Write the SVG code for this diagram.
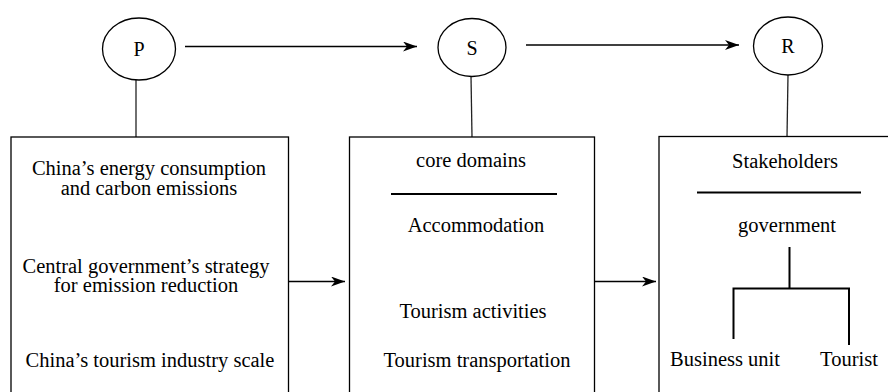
<svg xmlns="http://www.w3.org/2000/svg" width="888" height="392" viewBox="0 0 888 392">
<defs>
<marker id="ah" viewBox="0 0 14 10" refX="14" refY="5" markerWidth="14" markerHeight="10" markerUnits="userSpaceOnUse" orient="auto">
<path d="M0,0 L14,5 L0,10 L4,5 Z" fill="#000"/>
</marker>
</defs>
<style>
text{font-family:"Liberation Serif","Times New Roman",serif;font-size:20.5px;fill:#000;text-anchor:middle}
.c{fill:#fff;stroke:#000;stroke-width:1.3}
.b{fill:#fff;stroke:#000;stroke-width:1.3}
.l{stroke:#222;stroke-width:1.3;fill:none}
.a{stroke:#000;stroke-width:1.3;fill:none;marker-end:url(#ah)}
.s{stroke:#000;stroke-width:2;fill:none}
.k{font-size:20px}
</style>
<rect width="888" height="392" fill="#fff"/>
<g id="connectors">
<line class="l" x1="136" y1="80" x2="136" y2="137"/>
<line class="l" x1="471" y1="76" x2="472" y2="137"/>
<line class="l" x1="788" y1="75" x2="787" y2="137"/>
<line class="a" x1="185" y1="46.5" x2="417" y2="46.5"/>
<line class="a" x1="526" y1="45" x2="739" y2="45"/>
<line class="a" x1="289" y1="281.5" x2="345" y2="281.5"/>
<line class="a" x1="595" y1="281.5" x2="656" y2="281.5"/>
</g>
<g id="node-P">
<ellipse class="c" cx="139" cy="49" rx="36.5" ry="31"/>
<text class="k" x="139" y="56">P</text>
</g>
<g id="node-S">
<ellipse class="c" cx="472" cy="47.5" rx="34" ry="29"/>
<text class="k" x="472" y="54.5">S</text>
</g>
<g id="node-R">
<ellipse class="c" cx="788" cy="46" rx="34.5" ry="29"/>
<text class="k" x="788" y="53">R</text>
</g>
<g id="box-P">
<rect class="b" x="11" y="137" width="277.5" height="270"/>
<text x="149" y="175">China’s energy consumption</text>
<text x="149" y="195">and carbon emissions</text>
<text x="146" y="273">Central government’s strategy</text>
<text x="146" y="292">for emission reduction</text>
<text x="150" y="367">China’s tourism industry scale</text>
</g>
<g id="box-S">
<rect class="b" x="349.5" y="137" width="245" height="270"/>
<text x="471" y="167">core domains</text>
<line class="s" x1="391" y1="194" x2="557" y2="194"/>
<text x="476" y="232">Accommodation</text>
<text x="473" y="318">Tourism activities</text>
<text x="477" y="367">Tourism transportation</text>
</g>
<g id="box-R">
<rect class="b" x="659" y="136.5" width="250" height="270"/>
<text x="785" y="168">Stakeholders</text>
<line class="s" x1="697" y1="192.5" x2="861" y2="192.5"/>
<text x="787" y="232">government</text>
<path class="s" d="M789.5,247 V289 M732.5,288.5 H850 M733.5,288.5 V339 M849,288.5 V345"/>
<text x="725" y="366">Business unit</text>
<text x="849" y="366">Tourist</text>
</g>
</svg>
